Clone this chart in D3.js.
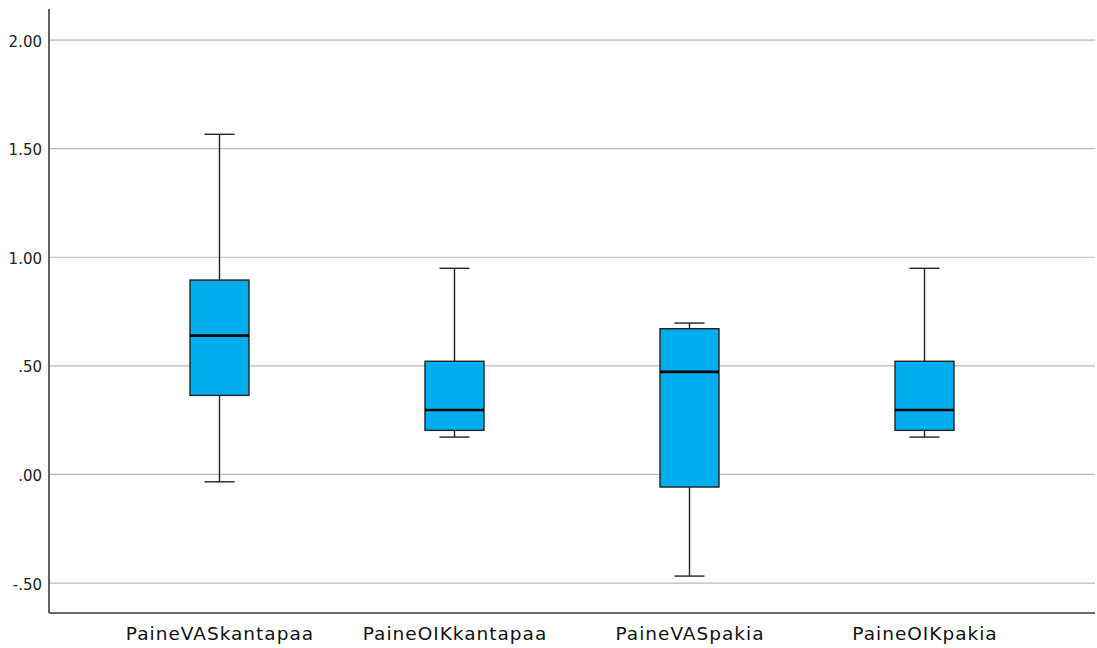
<!DOCTYPE html>
<html><head><meta charset="utf-8">
<script src="https://cdn.jsdelivr.net/npm/d3@7"></script>
<style>body{margin:0;background:#fff}svg{display:block}</style>
</head><body>
<script>
const categories = ["PaineVASkantapaa","PaineOIKkantapaa","PaineVASpakia","PaineOIKpakia"];
const whiskerLow = [-0.034, 0.172, -0.468, 0.172];
const q1 = [0.364, 0.203, -0.058, 0.203];
const median = [0.639, 0.297, 0.472, 0.297];
const q3 = [0.895, 0.521, 0.671, 0.521];
const whiskerHigh = [1.566, 0.949, 0.697, 0.949];
const yTicks = [-0.5, 0, 0.5, 1.0, 1.5, 2.0];

const W = 1097, H = 648;
const m = {left: 49, right: 2, top: 9, bottom: 35};
const svg = d3.select("body").append("svg").attr("width", W).attr("height", H);

const y = d3.scaleLinear().domain([-0.638, 2.143]).range([H - m.bottom, m.top]);
const x = d3.scalePoint().domain(categories).range([m.left, W - m.right]).padding(0.7255);

const fmt = v => { const s = v.toFixed(2); return s.replace(/^0\./, ".").replace(/^-0\./, "-."); };

// grid lines
svg.append("g").selectAll("line").data(yTicks).join("line")
  .attr("x1", m.left).attr("x2", W - m.right)
  .attr("y1", d => y(d)).attr("y2", d => y(d))
  .attr("stroke", "#b8b8b8").attr("stroke-width", 1.2);

// y axis
const yAxis = svg.append("g").attr("transform", `translate(${m.left},0)`)
  .call(d3.axisLeft(y).tickValues(yTicks).tickFormat(fmt).tickSize(0).tickPadding(7));
yAxis.select(".domain").remove();
yAxis.selectAll("text").attr("font-family", "DejaVu Sans, sans-serif").attr("font-size", 15).attr("fill", "#222").attr("dy", "0.4em");

// axis lines
svg.append("line").attr("x1", m.left).attr("x2", m.left).attr("y1", m.top).attr("y2", H - m.bottom)
  .attr("stroke", "#3a3a3a").attr("stroke-width", 1.6);
svg.append("line").attr("x1", m.left).attr("x2", W - m.right).attr("y1", H - m.bottom).attr("y2", H - m.bottom)
  .attr("stroke", "#3a3a3a").attr("stroke-width", 1.6);

// x axis labels
const xAxis = svg.append("g").attr("transform", `translate(0,${H - m.bottom})`)
  .call(d3.axisBottom(x).tickSize(0).tickPadding(14));
xAxis.select(".domain").remove();
xAxis.selectAll("text").attr("font-family", "DejaVu Sans, sans-serif").attr("font-size", 18.5)
  .attr("letter-spacing", "1px").attr("fill", "#111");

const boxW = 59, capW = 30;
const data = categories.map((c, i) => ({c, lo: whiskerLow[i], q1: q1[i], med: median[i], q3: q3[i], hi: whiskerHigh[i]}));
const g = svg.append("g").selectAll("g").data(data).join("g");
const line = (sel) => sel.attr("stroke", "#222").attr("stroke-width", 1.4);
g.append("line").attr("x1", d => x(d.c)).attr("x2", d => x(d.c)).attr("y1", d => y(d.hi)).attr("y2", d => y(d.q3)).call(line);
g.append("line").attr("x1", d => x(d.c)).attr("x2", d => x(d.c)).attr("y1", d => y(d.q1)).attr("y2", d => y(d.lo)).call(line);
g.append("line").attr("x1", d => x(d.c) - capW/2).attr("x2", d => x(d.c) + capW/2).attr("y1", d => y(d.hi)).attr("y2", d => y(d.hi)).call(line);
g.append("line").attr("x1", d => x(d.c) - capW/2).attr("x2", d => x(d.c) + capW/2).attr("y1", d => y(d.lo)).attr("y2", d => y(d.lo)).call(line);
g.append("rect").attr("x", d => x(d.c) - boxW/2).attr("width", boxW)
  .attr("y", d => y(d.q3)).attr("height", d => y(d.q1) - y(d.q3))
  .attr("fill", "#00aeef").attr("stroke", "#222").attr("stroke-width", 1.4);
g.append("line").attr("x1", d => x(d.c) - boxW/2).attr("x2", d => x(d.c) + boxW/2).attr("y1", d => y(d.med)).attr("y2", d => y(d.med))
  .attr("stroke", "#000").attr("stroke-width", 2.6);
</script>
</body></html>
